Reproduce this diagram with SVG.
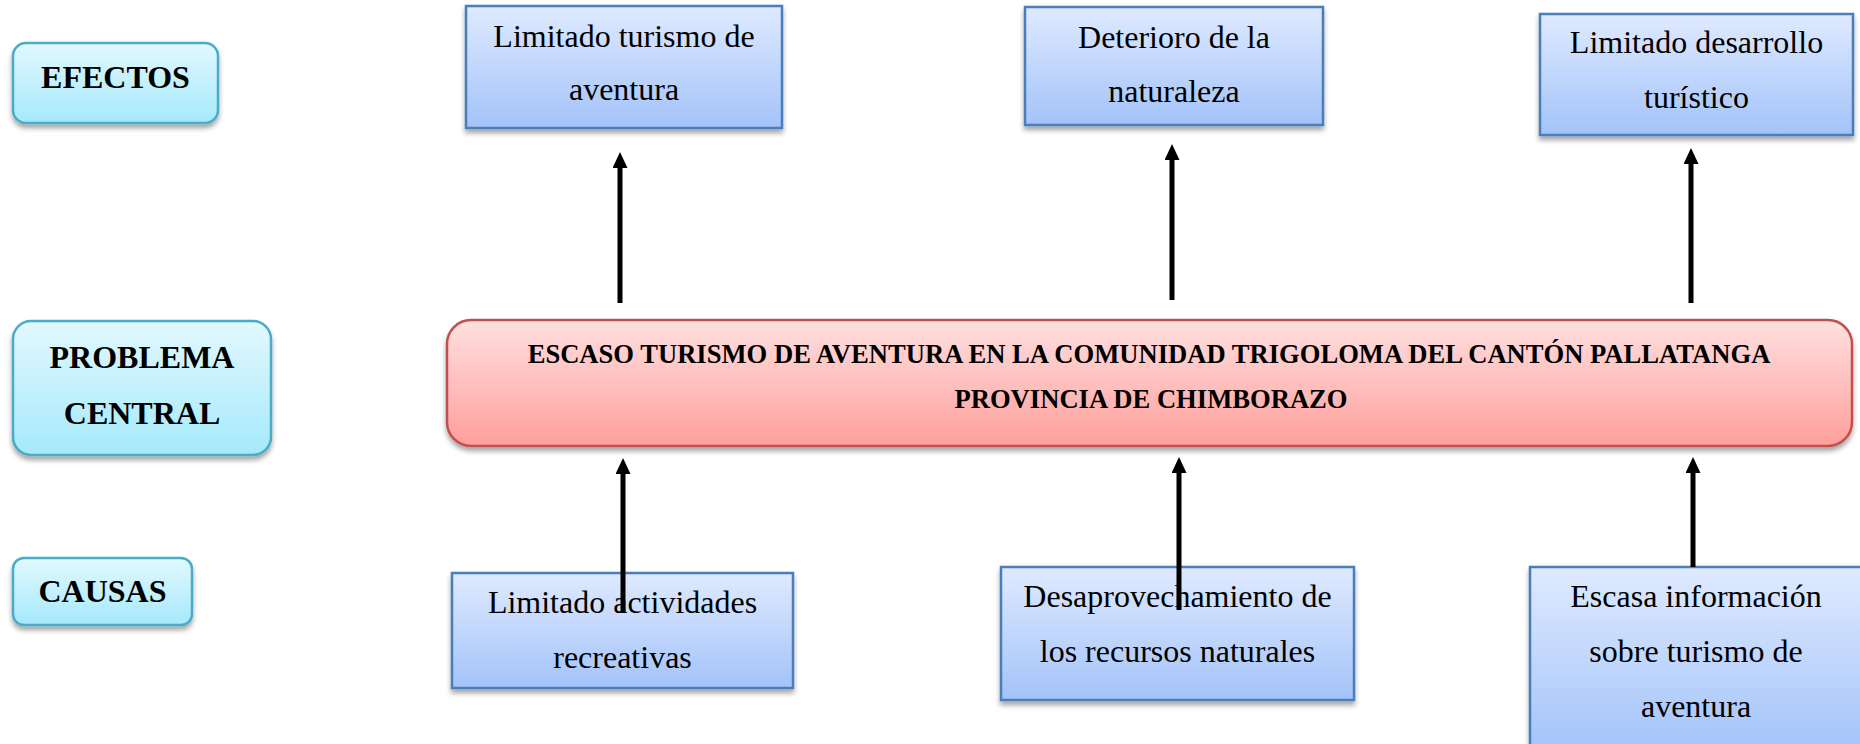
<svg xmlns="http://www.w3.org/2000/svg" width="1860" height="744" viewBox="0 0 1860 744">
<style>
.bx{fill:url(#gBlue);stroke:#4a7ebb;stroke-width:2.5;filter:url(#sh)}
.lb{fill:url(#gCyan);stroke:#4bacc6;stroke-width:2.5;filter:url(#sh)}
.ct{fill:url(#gRed);stroke:#c0504d;stroke-width:2.5;filter:url(#sh)}
.t{font-family:"Liberation Serif","Times New Roman",serif;font-size:32px;fill:#000;text-anchor:middle}
.tb{font-family:"Liberation Serif","Times New Roman",serif;font-size:32px;font-weight:bold;fill:#000;text-anchor:middle}
.tc{font-family:"Liberation Serif","Times New Roman",serif;font-size:26.6px;font-weight:bold;fill:#000;text-anchor:middle}
.ar{stroke:#000;stroke-width:5;fill:none;marker-end:url(#ah)}
</style>
<defs>
<linearGradient id="gBlue" x1="0" y1="0" x2="0" y2="1"><stop offset="0" stop-color="#dfeaff"/><stop offset="1" stop-color="#a3c3f9"/></linearGradient>
<linearGradient id="gCyan" x1="0" y1="0" x2="0" y2="1"><stop offset="0" stop-color="#e2f8fe"/><stop offset="1" stop-color="#a5e9fb"/></linearGradient>
<linearGradient id="gRed" x1="0" y1="0" x2="0" y2="1"><stop offset="0" stop-color="#ffe0e0"/><stop offset="1" stop-color="#ff9f9b"/></linearGradient>
<filter id="sh" x="-5%" y="-10%" width="110%" height="130%"><feDropShadow dx="0" dy="4" stdDeviation="2.5" flood-color="#000" flood-opacity="0.35"/></filter>
<marker id="ah" markerUnits="userSpaceOnUse" markerWidth="18" markerHeight="16" refX="2" refY="7.5" orient="auto"><path d="M0,0 L16,7.5 L0,15 z" fill="#000"/></marker>
</defs>
<g id="efectos"><rect class="lb" x="13" y="43" width="205" height="80" rx="13"/><text class="tb" x="115.5" y="88">EFECTOS</text></g>
<g id="problema"><rect class="lb" x="13" y="321" width="258" height="134" rx="18"/><text class="tb" x="142" y="368">PROBLEMA</text><text class="tb" x="142" y="424">CENTRAL</text></g>
<g id="causas"><rect class="lb" x="13" y="558" width="179" height="67" rx="11"/><text class="tb" x="102.5" y="602">CAUSAS</text></g>
<g id="efecto1"><rect class="bx" x="466" y="6" width="316" height="122"/><text class="t" x="624" y="47">Limitado turismo de</text><text class="t" x="624" y="100">aventura</text></g>
<g id="efecto2"><rect class="bx" x="1025" y="7" width="298" height="118"/><text class="t" x="1174" y="48">Deterioro de la</text><text class="t" x="1174" y="102">naturaleza</text></g>
<g id="efecto3"><rect class="bx" x="1540" y="14" width="313" height="121"/><text class="t" x="1696.5" y="53">Limitado desarrollo</text><text class="t" x="1696.5" y="108">turístico</text></g>
<g id="central"><rect class="ct" x="447" y="320" width="1405" height="126" rx="24"/><text class="tc" x="1149" y="363">ESCASO TURISMO DE AVENTURA EN LA COMUNIDAD TRIGOLOMA DEL CANTÓN PALLATANGA</text><text class="tc" x="1151" y="408">PROVINCIA DE CHIMBORAZO</text></g>
<g id="causa1"><rect class="bx" x="452" y="573" width="341" height="115"/><text class="t" x="622.5" y="613">Limitado actividades</text><text class="t" x="622.5" y="668">recreativas</text></g>
<g id="causa2"><rect class="bx" x="1001" y="567" width="353" height="133"/><text class="t" x="1177.5" y="607">Desaprovechamiento de</text><text class="t" x="1177.5" y="662">los recursos naturales</text></g>
<g id="causa3"><rect class="bx" x="1530" y="567" width="333" height="185"/><text class="t" x="1696" y="607">Escasa información</text><text class="t" x="1696" y="662">sobre turismo de</text><text class="t" x="1696" y="717">aventura</text></g>
<g id="connectors">
<path class="ar" d="M620,303 L620,166"/>
<path class="ar" d="M1172,300 L1172,158"/>
<path class="ar" d="M1691,303 L1691,162"/>
<path class="ar" d="M623,613 L623,472"/>
<path class="ar" d="M1179,610 L1179,471"/>
<path class="ar" d="M1693,567 L1693,471"/>
</g>
</svg>
